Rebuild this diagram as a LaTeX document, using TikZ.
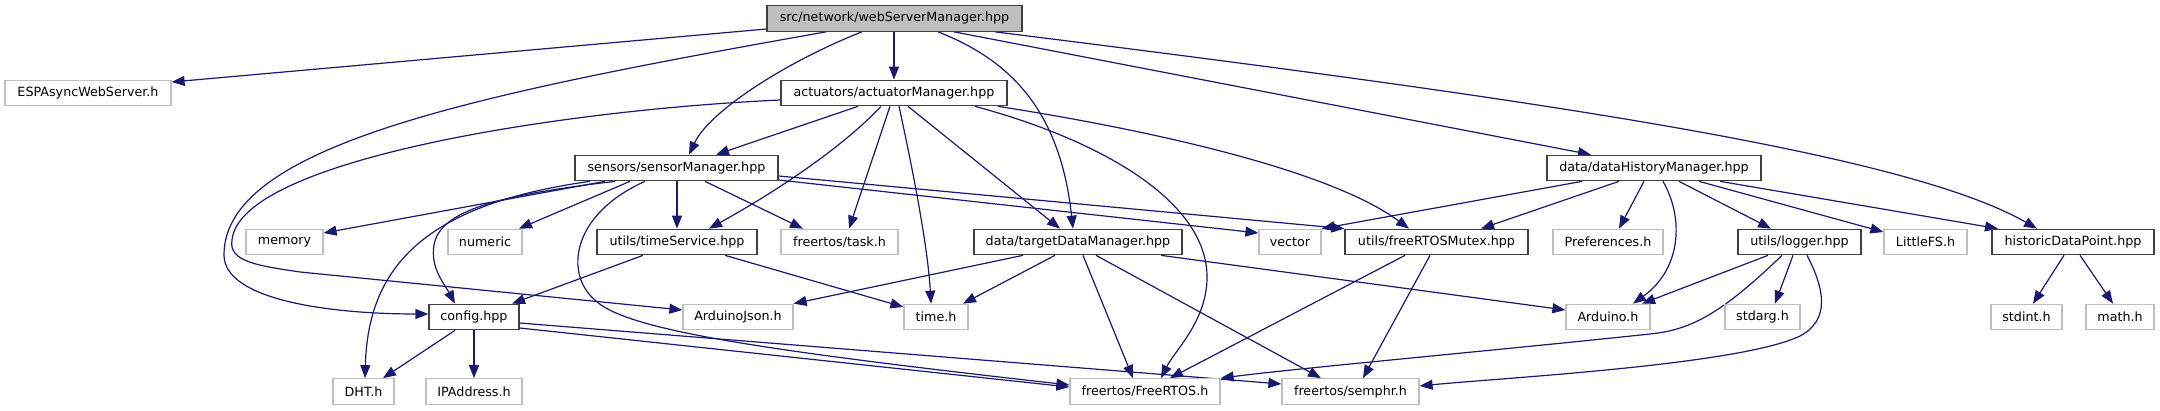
\documentclass[tikz,border=0pt]{standalone}
\usepackage{fontspec}
\setmainfont{DejaVu Sans}
\usetikzlibrary{arrows.meta}
\definecolor{edgecol}{HTML}{191970}
\definecolor{extborder}{HTML}{BFBFBF}
\definecolor{docborder}{HTML}{404040}
\definecolor{rootfill}{HTML}{BFBFBF}
\pgfdeclarelayer{bg}
\pgfsetlayers{bg,main}
\tikzset{
  basebox/.style={rectangle, inner sep=0pt, minimum height=25.5pt, line width=1.2pt, fill=white, text=black,
    font=\fontsize{12.7pt}{15pt}\selectfont},
  docbox/.style={basebox, draw=docborder},
  extbox/.style={basebox, draw=extborder},
  rootbox/.style={basebox, draw=docborder, fill=rootfill},
  dep/.style={draw=edgecol, line width=1.2pt, -{Triangle[length=13pt,width=10pt]}, color=edgecol},
}
\begin{document}
\begin{tikzpicture}[x=1pt,y=-1pt]
\useasboundingbox (0,0) rectangle (2160,411);
% row 1
\node[rootbox, minimum width=255pt] (top) at (894.5,18.5) {src/network/webServerManager.hpp};
% row 2
\node[extbox, minimum width=166pt] (esp) at (88,93) {ESPAsyncWebServer.h};
\node[docbox, minimum width=226pt] (actuator) at (894,93) {actuators/actuatorManager.hpp};
% row 3
\node[docbox, minimum width=203pt] (sensor) at (676.5,168) {sensors/sensorManager.hpp};
\node[docbox, minimum width=214pt] (datahist) at (1654,168) {data/dataHistoryManager.hpp};
% row 4
\node[extbox, minimum width=77pt] (memory) at (284.5,242) {memory};
\node[extbox, minimum width=74pt] (numeric) at (485,242) {numeric};
\node[docbox, minimum width=160pt] (timesvc) at (677,242) {utils/timeService.hpp};
\node[extbox, minimum width=117pt] (task) at (839.5,242) {freertos/task.h};
\node[docbox, minimum width=208pt] (target) at (1078,242) {data/targetDataManager.hpp};
\node[extbox, minimum width=62pt] (vector) at (1290,242) {vector};
\node[docbox, minimum width=183pt] (mutex) at (1436.5,242) {utils/freeRTOSMutex.hpp};
\node[extbox, minimum width=110pt] (prefs) at (1608,242) {Preferences.h};
\node[docbox, minimum width=123pt] (logger) at (1799.5,242) {utils/logger.hpp};
\node[extbox, minimum width=83pt] (littlefs) at (1925.5,242) {LittleFS.h};
\node[docbox, minimum width=162pt] (historic) at (2073,242) {historicDataPoint.hpp};
% row 5
\node[docbox, minimum width=90pt] (config) at (474,317) {config.hpp};
\node[extbox, minimum width=110pt] (ajson) at (738,317) {ArduinoJson.h};
\node[extbox, minimum width=64pt] (timeh) at (936,317) {time.h};
\node[extbox, minimum width=84pt] (arduino) at (1608,317) {Arduino.h};
\node[extbox, minimum width=75pt] (stdarg) at (1762.5,317) {stdarg.h};
\node[extbox, minimum width=71pt] (stdint) at (2026.5,317) {stdint.h};
\node[extbox, minimum width=68pt] (math) at (2120,317) {math.h};
% row 6
\node[extbox, minimum width=61pt] (dht) at (363.5,391.5) {DHT.h};
\node[extbox, minimum width=96pt] (ipaddr) at (474,391.5) {IPAddress.h};
\node[extbox, minimum width=150pt] (freertos) at (1145,391.5) {freertos/FreeRTOS.h};
\node[extbox, minimum width=137pt] (semphr) at (1350.5,391.5) {freertos/semphr.h};

\begin{pgfonlayer}{bg}
% from webServerManager
\draw[dep] (top.west |- 0,29) -- (esp.east |- 0,82);
\draw[dep] (top.south -| 826,0) .. controls (476,94) and (224,145) .. (224,255) .. controls (224,300) and (330,314) .. (config.west |- 0,314);
\draw[dep] (top.south -| 862,0) .. controls (790,60) and (710,110) .. (sensor.north -| 689,0);
\draw[dep] (top.south -| 894,0) -- (actuator.north -| 894,0);
\draw[dep] (top.south -| 938,0) .. controls (1010,60) and (1060,110) .. (target.north -| 1073,0);
\draw[dep] (top.south -| 954,0) -- (datahist.north -| 1591,0);
\draw[dep] (top.south -| 995,0) .. controls (1500,95) and (1900,150) .. (historic.north -| 2037,0);
% from actuatorManager
\draw[dep] (actuator.west |- 0,100) .. controls (560,110) and (240,160) .. (232,240) .. controls (228,262) and (260,266) .. (300,272) -- (ajson.west |- 0,310);
\draw[dep] (actuator.south -| 858,0) -- (sensor.north -| 716,0);
\draw[dep] (actuator.south -| 881,0) .. controls (840,150) and (770,195) .. (timesvc.north -| 709,0);
\draw[dep] (actuator.south -| 890,0) -- (task.north -| 849,0);
\draw[dep] (actuator.south -| 899,0) .. controls (915,180) and (928,250) .. (timeh.north -| 931,0);
\draw[dep] (actuator.south -| 908,0) -- (target.north -| 1060,0);
\draw[dep] (actuator.south -| 975,0) .. controls (1100,140) and (1205,200) .. (1207,275) .. controls (1208,320) and (1175,350) .. (freertos.north -| 1161,0);
\draw[dep] (actuator.south -| 998,0) .. controls (1150,130) and (1330,170) .. (mutex.north -| 1409,0);
% from sensorManager
\draw[dep] (sensor.south -| 605,0) -- (memory.east |- 0,233);
\draw[dep] (sensor.south -| 590,0) .. controls (420,205) and (368,270) .. (dht.north -| 365,0);
\draw[dep] (sensor.south -| 615,0) .. controls (500,195) and (440,210) .. (434,245) .. controls (430,268) and (445,285) .. (config.north -| 455,0);
\draw[dep] (sensor.south -| 630,0) -- (numeric.north -| 519,0);
\draw[dep] (sensor.south -| 677,0) -- (timesvc.north -| 677,0);
\draw[dep] (sensor.south -| 645,0) .. controls (570,215) and (565,275) .. (595,300) .. controls (625,330) and (760,350) .. (freertos.west |- 0,385);
\draw[dep] (sensor.south -| 705,0) -- (task.north -| 803,0);
\draw[dep] (sensor.east |- 0,180) -- (vector.west |- 0,233);
\draw[dep] (sensor.east |- 0,176) -- (mutex.north west);
% from timeService
\draw[dep] (timesvc.south -| 643,0) -- (config.north -| 512,0);
\draw[dep] (timesvc.south -| 725,0) -- (timeh.west |- 0,307);
% from targetDataManager
\draw[dep] (target.south -| 1023,0) -- (ajson.north east);
\draw[dep] (target.south -| 1055,0) -- (timeh.north -| 963,0);
\draw[dep] (target.south -| 1083,0) -- (freertos.north -| 1133,0);
\draw[dep] (target.south -| 1096,0) -- (semphr.north -| 1321,0);
\draw[dep] (target.south -| 1161,0) -- (arduino.west |- 0,310);
% from freeRTOSMutex
\draw[dep] (mutex.south -| 1405,0) -- (freertos.north -| 1170,0);
\draw[dep] (mutex.south -| 1430,0) -- (semphr.north -| 1363,0);
% from dataHistoryManager
\draw[dep] (datahist.south -| 1582,0) -- (vector.north east);
\draw[dep] (datahist.south -| 1619,0) -- (mutex.north -| 1481,0);
\draw[dep] (datahist.south -| 1644,0) -- (prefs.north -| 1619,0);
\draw[dep] (datahist.south -| 1663,0) .. controls (1685,220) and (1680,270) .. (arduino.north -| 1633,0);
\draw[dep] (datahist.south -| 1679,0) -- (logger.north -| 1771,0);
\draw[dep] (datahist.south -| 1699,0) -- (littlefs.west |- 0,232);
\draw[dep] (datahist.south -| 1720,0) -- (historic.north -| 1998,0);
% from logger
\draw[dep] (logger.south -| 1768,0) -- (arduino.north -| 1642,0);
\draw[dep] (logger.south -| 1782,0) .. controls (1720,315) and (1690,330) .. (1650,334) .. controls (1500,350) and (1300,368) .. (freertos.north east);
\draw[dep] (logger.south -| 1793,0) -- (stdarg.north -| 1775,0);
\draw[dep] (logger.south -| 1807,0) .. controls (1825,290) and (1830,320) .. (1800,336) .. controls (1740,365) and (1500,378) .. (semphr.east |- 0,386);
% from historicDataPoint
\draw[dep] (historic.south -| 2064,0) -- (stdint.north -| 2033,0);
\draw[dep] (historic.south -| 2080,0) -- (math.north -| 2113,0);
% from config
\draw[dep] (config.south -| 455,0) -- (dht.north -| 383,0);
\draw[dep] (config.south -| 474,0) -- (ipaddr.north -| 474,0);
\draw[dep] (config.east |- 0,328) -- (freertos.west |- 0,387);
\draw[dep] (config.east |- 0,323) -- (semphr.west |- 0,384);
\end{pgfonlayer}
\end{tikzpicture}
\end{document}
